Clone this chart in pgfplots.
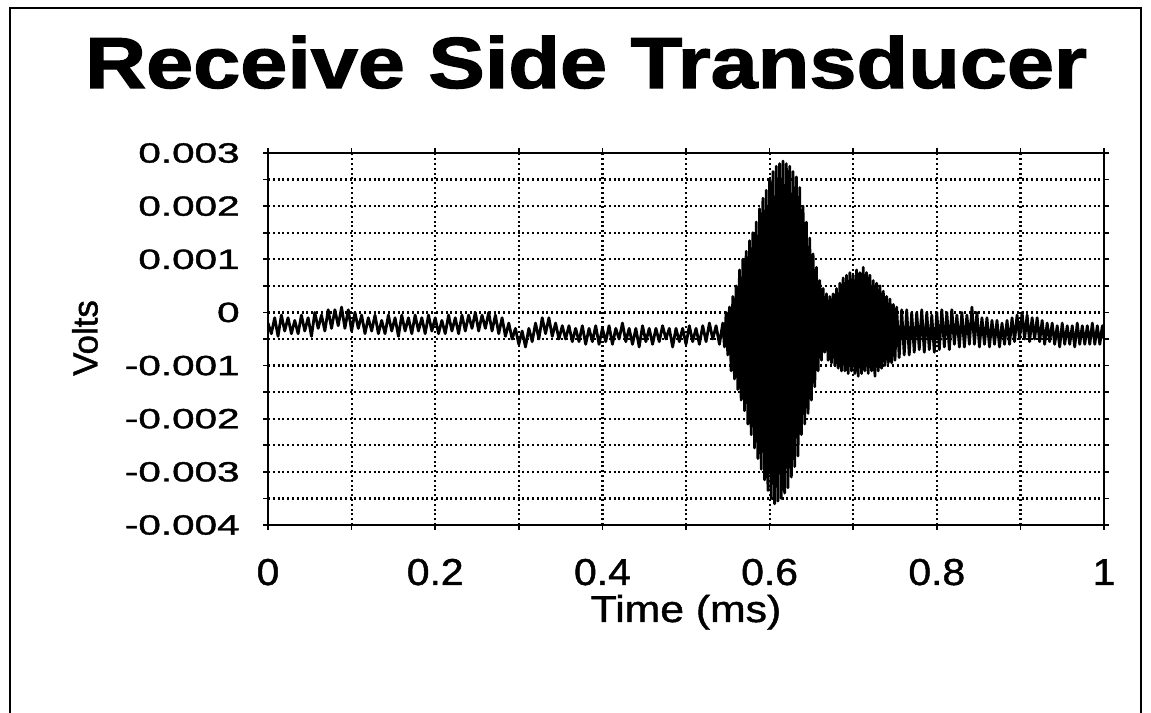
\documentclass[border=0pt]{standalone}
\usepackage{fontspec}
\setmainfont{Liberation Sans}
\newfontfamily\tickfont[FakeBold=1.2]{Liberation Sans}
\newfontfamily\titlefont[BoldFeatures={FakeBold=1.6}]{Liberation Sans}
\usepackage{graphicx}
\usepackage{pgfplots}
\usepackage{pgfplotstable}
\pgfplotsset{compat=1.18}
\pgfplotstableread{
t v
0.000 -2e-4
0.004 -4e-4
0.008 -1e-4
0.012 -4.5e-4
0.016 -0.5e-4
0.020 -3.5e-4
0.024 -1e-4
0.028 -4e-4
0.032 -1.5e-4
0.036 -4e-4
0.040 -0.5e-4
0.044 -3.5e-4
0.048 -1e-4
0.052 -4.5e-4
0.056 0
0.060 -3e-4
0.064 -0.5e-4
0.068 -3.5e-4
0.072 0.5e-4
0.076 -3e-4
0.080 0.5e-4
0.084 -2.5e-4
0.088 1e-4
0.092 -3e-4
0.096 0.5e-4
0.100 -3.5e-4
0.104 0
0.108 -3e-4
0.112 -0.5e-4
0.116 -4e-4
0.120 -1e-4
0.124 -3.5e-4
0.128 -0.5e-4
0.132 -4e-4
0.136 -1.5e-4
0.140 -4e-4
0.144 -0.5e-4
0.148 -3.5e-4
0.152 -1e-4
0.156 -4.5e-4
0.160 -0.5e-4
0.164 -3.5e-4
0.168 -1e-4
0.172 -4e-4
0.176 -0.5e-4
0.180 -3.5e-4
0.184 -1e-4
0.188 -4e-4
0.192 -0.5e-4
0.196 -3.5e-4
0.200 -1e-4
0.204 -4e-4
0.208 -1.5e-4
0.212 -4e-4
0.216 -0.5e-4
0.220 -3.5e-4
0.224 -1e-4
0.228 -4e-4
0.232 -0.5e-4
0.236 -3.5e-4
0.240 -0.5e-4
0.244 -3e-4
0.248 0
0.252 -3.5e-4
0.256 -0.5e-4
0.260 -3e-4
0.264 0
0.268 -3.5e-4
0.272 -0.5e-4
0.276 -4e-4
0.280 -1e-4
0.284 -4.5e-4
0.288 -2e-4
0.292 -5e-4
0.296 -3e-4
0.300 -6e-4
0.304 -3.5e-4
0.308 -6.5e-4
0.312 -3e-4
0.316 -5.5e-4
0.320 -2e-4
0.324 -5e-4
0.328 -1e-4
0.332 -4e-4
0.336 -1e-4
0.340 -4.5e-4
0.344 -2e-4
0.348 -5e-4
0.352 -2.5e-4
0.356 -5e-4
0.360 -2.5e-4
0.364 -5.5e-4
0.368 -3e-4
0.372 -5.5e-4
0.376 -2.5e-4
0.380 -6e-4
0.384 -3e-4
0.388 -5.5e-4
0.392 -2.5e-4
0.396 -6e-4
0.400 -3e-4
0.404 -5.5e-4
0.408 -2.5e-4
0.412 -6e-4
0.416 -3e-4
0.420 -5e-4
0.424 -2e-4
0.428 -5.5e-4
0.432 -3e-4
0.436 -6e-4
0.440 -3e-4
0.444 -6.5e-4
0.448 -2.5e-4
0.452 -5.5e-4
0.456 -3e-4
0.460 -6e-4
0.464 -3e-4
0.468 -5.5e-4
0.472 -2.5e-4
0.476 -5e-4
0.480 -3e-4
0.484 -6.5e-4
0.488 -3e-4
0.492 -5.5e-4
0.496 -3e-4
0.500 -6e-4
0.504 -2.5e-4
0.508 -5.5e-4
0.512 -3e-4
0.516 -6e-4
0.520 -2.5e-4
0.524 -5.5e-4
0.528 -2e-4
0.532 -5e-4
0.536 -2.5e-4
0.540 -6e-4
0.544 -2e-4
0.546 -6.5e-4
0.548 0
0.550 -8e-4
0.552 1e-4
0.554 -11e-4
0.556 3e-4
0.558 -12.5e-4
0.560 5e-4
0.562 -14.5e-4
0.564 8e-4
0.566 -16.5e-4
0.568 10e-4
0.570 -18.5e-4
0.572 11.5e-4
0.574 -21e-4
0.576 13.5e-4
0.578 -23e-4
0.580 15e-4
0.582 -25.5e-4
0.584 17e-4
0.586 -27.5e-4
0.588 19.5e-4
0.590 -29.5e-4
0.592 21.5e-4
0.594 -31.5e-4
0.596 23e-4
0.598 -33.5e-4
0.600 25e-4
0.602 -35e-4
0.604 26.5e-4
0.606 -36e-4
0.608 27.5e-4
0.610 -35.5e-4
0.612 28e-4
0.614 -35e-4
0.616 28.5e-4
0.618 -34e-4
0.620 28e-4
0.622 -33e-4
0.624 27.5e-4
0.626 -31e-4
0.628 26.5e-4
0.630 -29e-4
0.632 25.5e-4
0.634 -27e-4
0.636 23.5e-4
0.638 -23e-4
0.640 20e-4
0.642 -21e-4
0.644 17e-4
0.646 -19e-4
0.648 14e-4
0.650 -16.5e-4
0.652 11e-4
0.654 -14e-4
0.656 8.5e-4
0.658 -11e-4
0.660 6e-4
0.662 -9e-4
0.664 4.5e-4
0.666 -7.5e-4
0.668 3.5e-4
0.670 -9e-4
0.672 3e-4
0.674 -9.5e-4
0.676 3.5e-4
0.678 -10e-4
0.680 4.5e-4
0.682 -10.5e-4
0.684 5.5e-4
0.686 -11e-4
0.688 6.5e-4
0.690 -11e-4
0.692 7e-4
0.694 -11.5e-4
0.696 7.5e-4
0.698 -11e-4
0.700 7e-4
0.702 -11.5e-4
0.704 8e-4
0.706 -12e-4
0.708 7.5e-4
0.710 -11.5e-4
0.712 8.5e-4
0.714 -11e-4
0.716 7.5e-4
0.718 -11.5e-4
0.720 7e-4
0.722 -11e-4
0.724 6e-4
0.726 -12e-4
0.728 5.5e-4
0.730 -11e-4
0.732 5e-4
0.734 -10.5e-4
0.736 4e-4
0.738 -10e-4
0.740 3e-4
0.742 -9.5e-4
0.744 2.5e-4
0.746 -9.5e-4
0.748 1.5e-4
0.750 -9e-4
0.752 1e-4
0.755 -8.5e-4
0.758 0.5e-4
0.761 -8e-4
0.764 0.5e-4
0.767 -8e-4
0.770 0
0.773 -7.5e-4
0.776 0
0.779 -7e-4
0.782 0.5e-4
0.785 -7.5e-4
0.788 0
0.791 -7e-4
0.794 -0.5e-4
0.797 -7.5e-4
0.800 0
0.803 -7e-4
0.806 0.5e-4
0.809 -6.5e-4
0.812 0
0.815 -7e-4
0.818 0.5e-4
0.821 -6e-4
0.824 -0.5e-4
0.827 -6.5e-4
0.830 0
0.833 -6.5e-4
0.836 -0.5e-4
0.839 -6e-4
0.842 1e-4
0.845 -6e-4
0.848 0
0.851 -6.5e-4
0.854 -1e-4
0.857 -6e-4
0.860 -1e-4
0.863 -6.5e-4
0.866 -1.5e-4
0.869 -6e-4
0.872 -1.5e-4
0.875 -6.5e-4
0.878 -2e-4
0.881 -6e-4
0.884 -1.5e-4
0.887 -6e-4
0.890 -1e-4
0.893 -5.5e-4
0.896 -0.5e-4
0.899 -5e-4
0.902 0
0.905 -5e-4
0.908 -0.5e-4
0.911 -5.5e-4
0.914 -1e-4
0.917 -5e-4
0.920 -1e-4
0.923 -5.5e-4
0.926 -1.5e-4
0.929 -6e-4
0.932 -2e-4
0.935 -5.5e-4
0.938 -2e-4
0.941 -6e-4
0.944 -2.5e-4
0.947 -6.5e-4
0.950 -2e-4
0.953 -6e-4
0.956 -2.5e-4
0.959 -6e-4
0.962 -2.5e-4
0.965 -6.5e-4
0.968 -2e-4
0.971 -6e-4
0.974 -2.5e-4
0.977 -6e-4
0.980 -2.5e-4
0.983 -6e-4
0.986 -2e-4
0.989 -6e-4
0.992 -2.5e-4
0.995 -6e-4
0.998 -2.5e-4
1.000 -5e-4
}\sig
\newcommand\xt[1]{\scalebox{1.09}[1]{#1}}
\newcommand\yt[1]{\scalebox{1.45}[1]{#1}}
\begin{document}
\begin{tikzpicture}
\path[use as bounding box] (0,0) rectangle (575.5bp,356.5bp);
\draw[line width=0.8bp] (5bp,-2bp) -- (5bp,352.5bp) -- (570.5bp,352.5bp) -- (570.5bp,-2bp);
\begin{axis}[
  at={(134bp,94bp)}, anchor=south west,
  scale only axis, width=418bp, height=186bp,
  xmin=0, xmax=1, ymin=-0.004, ymax=0.003,
  xtick={0,0.2,0.4,0.6,0.8,1},
  xticklabels={\xt{0},\xt{0.2},\xt{0.4},\xt{0.6},\xt{0.8},\xt{1}},
  ytick={-0.004,-0.003,-0.002,-0.001,0,0.001,0.002,0.003},
  yticklabels={\yt{-0.004},\yt{-0.003},\yt{-0.002},\yt{-0.001},\yt{0},\yt{0.001},\yt{0.002},\yt{0.003}},
  minor x tick num=1, minor y tick num=1,
  scaled y ticks=false,
  tick align=outside,
  major tick length=2.5bp, minor tick length=2.5bp,
  tick style={black, line width=0.8bp},
  grid=both,
  major grid style={black, line width=1.1bp, dash pattern=on 1bp off 1.4bp},
  minor grid style={black, line width=1.1bp, dash pattern=on 1bp off 1.4bp},
  axis line style={black, line width=1.2bp},
  xticklabel style={font=\tickfont\fontsize{18.8}{20}\selectfont, anchor=base, inner sep=0pt, yshift=-27.5bp},
  yticklabel style={font=\tickfont\fontsize{14}{16}\selectfont, anchor=east, inner sep=0pt, xshift=-11.5bp},
]
\addplot[black, line width=1.4bp, line join=round] table[x=t, y=v] {\sig};
\end{axis}
\node[anchor=base, inner sep=0pt] at (293bp,312.5bp) {\scalebox{1.17}[1]{\titlefont\bfseries\fontsize{36.3}{40}\selectfont Receive Side Transducer}};
\node[anchor=base, inner sep=0pt] at (343bp,45.5bp) {\scalebox{1.14}[1]{\tickfont\fontsize{18.8}{20}\selectfont Time (ms)}};
\node[rotate=90, inner sep=0pt] at (42.5bp,187.5bp) {\tickfont\fontsize{17.5}{20}\selectfont Volts};
\end{tikzpicture}
\end{document}
